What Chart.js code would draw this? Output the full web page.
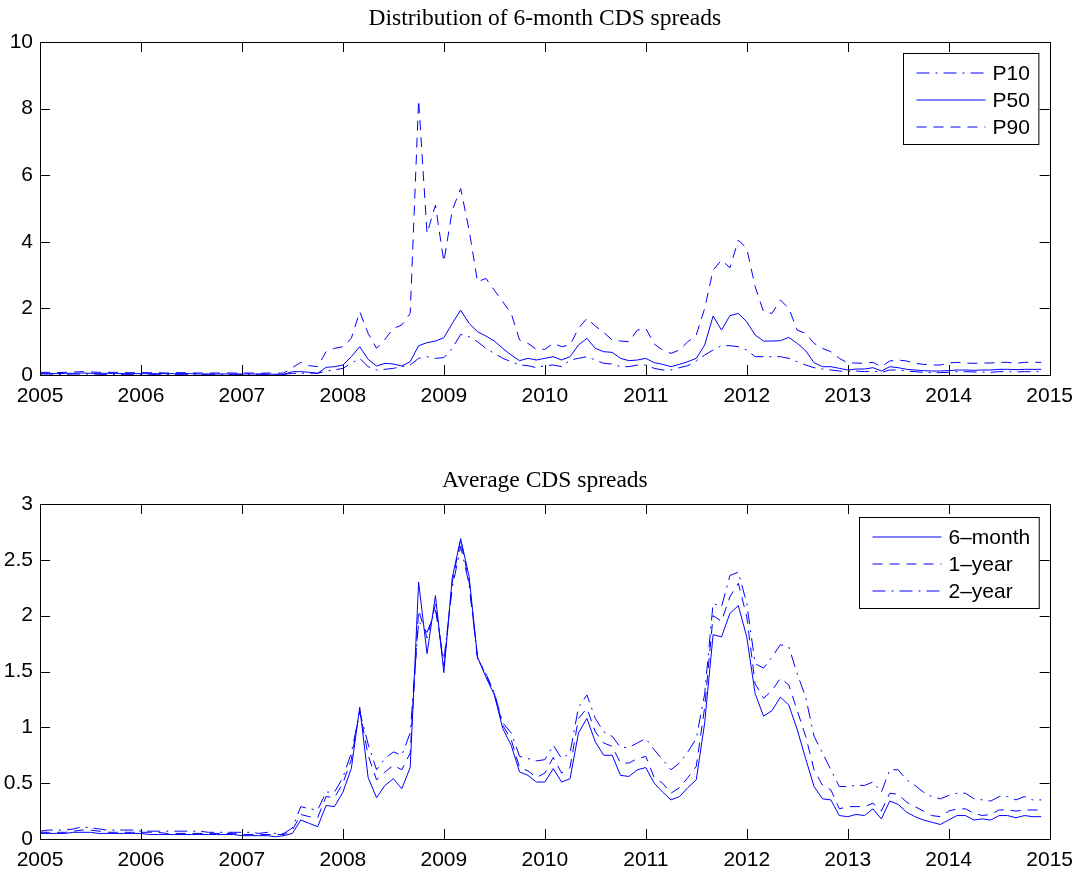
<!DOCTYPE html>
<html>
<head>
<meta charset="utf-8">
<script src="https://cdn.jsdelivr.net/npm/chart.js@4.4.1/dist/chart.umd.min.js"></script>
<style>
  body { margin: 0; background: #fff; }
  canvas { position: absolute; left: 0; }
</style>
</head>
<body>
<canvas id="distChart" width="1082" height="437" style="top:0;width:1082px;height:437px"></canvas>
<canvas id="avgChart" width="1082" height="437" style="top:437px;width:1082px;height:437px"></canvas>
<script>
// monthly observations, Jan 2005 - Dec 2014
let years = [2005, 2006, 2007, 2008, 2009, 2010, 2011, 2012, 2013, 2014];
let dates = [];
years.forEach(y => { for (let m = 0; m < 12; m++) dates.push(y + m / 12); });

let xTicks = [2005, 2006, 2007, 2008, 2009, 2010, 2011, 2012, 2013, 2014, 2015];

// 6-month CDS spread percentiles
let p10 = [
  0.03,0.03,0.02,0.02,0.03,0.03,0.03,0.02,0.02,0.02,0.02,0.02,
  0.02,0.02,0.02,0.02,0.02,0.02,0.02,0.02,0.02,0.02,0.02,0.02,
  0.02,0.02,0.02,0.02,0.02,0.02,0.05,0.05,0.06,0.05,0.12,0.15,
  0.20,0.35,0.50,0.25,0.15,0.17,0.20,0.25,0.30,0.50,0.55,0.50,
  0.52,0.80,1.22,1.15,1.00,0.80,0.65,0.50,0.40,0.30,0.28,0.22,
  0.28,0.30,0.25,0.45,0.50,0.55,0.45,0.35,0.33,0.25,0.25,0.30,
  0.30,0.20,0.15,0.15,0.22,0.28,0.42,0.60,0.75,0.88,0.88,0.85,
  0.75,0.55,0.55,0.55,0.55,0.50,0.40,0.30,0.22,0.18,0.15,0.12,
  0.10,0.12,0.10,0.12,0.08,0.15,0.15,0.12,0.10,0.08,0.07,0.07,
  0.08,0.10,0.10,0.09,0.09,0.08,0.10,0.10,0.09,0.10,0.10,0.10
];
let p50 = [
  0.05,0.05,0.04,0.05,0.05,0.06,0.05,0.05,0.05,0.05,0.04,0.04,
  0.04,0.04,0.04,0.04,0.04,0.04,0.04,0.03,0.03,0.03,0.03,0.03,
  0.03,0.03,0.03,0.03,0.02,0.02,0.10,0.10,0.08,0.05,0.23,0.25,
  0.30,0.55,0.85,0.47,0.27,0.35,0.33,0.27,0.40,0.88,0.97,1.02,
  1.12,1.55,1.95,1.55,1.30,1.17,1.02,0.80,0.60,0.43,0.50,0.45,
  0.50,0.55,0.45,0.55,0.90,1.10,0.80,0.70,0.68,0.50,0.43,0.45,
  0.50,0.37,0.32,0.25,0.32,0.40,0.50,0.90,1.77,1.35,1.78,1.85,
  1.60,1.20,1.02,1.02,1.03,1.13,0.95,0.73,0.37,0.25,0.25,0.20,
  0.15,0.18,0.18,0.22,0.12,0.25,0.22,0.17,0.15,0.13,0.12,0.12,
  0.13,0.15,0.15,0.14,0.15,0.15,0.17,0.17,0.16,0.17,0.17,0.17
];
let p90 = [
  0.08,0.08,0.07,0.08,0.09,0.10,0.09,0.08,0.08,0.08,0.07,0.07,
  0.07,0.07,0.07,0.06,0.07,0.07,0.06,0.06,0.06,0.06,0.06,0.06,
  0.06,0.06,0.05,0.06,0.05,0.06,0.22,0.38,0.28,0.25,0.70,0.80,
  0.85,1.10,1.90,1.25,0.80,1.07,1.40,1.50,1.85,8.26,4.25,5.10,
  3.40,4.95,5.60,4.35,2.80,2.90,2.55,2.20,1.85,1.05,0.95,0.77,
  0.77,0.95,0.85,0.90,1.40,1.70,1.47,1.28,1.05,1.02,1.00,1.35,
  1.40,0.93,0.75,0.65,0.75,1.00,1.20,2.00,3.15,3.45,3.22,4.05,
  3.80,2.65,1.90,1.85,2.25,2.00,1.35,1.25,0.95,0.80,0.70,0.50,
  0.36,0.36,0.35,0.38,0.25,0.42,0.45,0.42,0.35,0.32,0.30,0.30,
  0.36,0.38,0.36,0.35,0.36,0.36,0.38,0.38,0.35,0.38,0.38,0.38
];

// average spreads by maturity
let avg6m = [
  0.05,0.05,0.05,0.05,0.06,0.06,0.06,0.05,0.05,0.05,0.05,0.05,
  0.05,0.04,0.04,0.04,0.04,0.04,0.04,0.04,0.04,0.04,0.04,0.04,
  0.03,0.03,0.03,0.03,0.02,0.03,0.05,0.17,0.14,0.11,0.30,0.29,
  0.42,0.63,1.18,0.55,0.37,0.48,0.54,0.45,0.64,2.30,1.66,2.18,
  1.49,2.34,2.69,2.35,1.63,1.45,1.29,0.99,0.84,0.60,0.57,0.51,
  0.51,0.63,0.51,0.54,0.95,1.08,0.87,0.75,0.75,0.57,0.56,0.62,
  0.64,0.50,0.42,0.35,0.38,0.46,0.53,1.04,1.83,1.81,2.02,2.09,
  1.81,1.30,1.10,1.15,1.27,1.20,0.98,0.72,0.47,0.36,0.35,0.21,
  0.20,0.22,0.21,0.27,0.18,0.34,0.31,0.24,0.20,0.17,0.15,0.13,
  0.17,0.21,0.21,0.17,0.18,0.17,0.21,0.21,0.19,0.21,0.20,0.20
];
let avg1y = [
  0.06,0.06,0.06,0.06,0.07,0.08,0.08,0.07,0.06,0.06,0.06,0.06,
  0.06,0.06,0.06,0.05,0.05,0.05,0.05,0.05,0.05,0.05,0.05,0.05,
  0.04,0.04,0.04,0.04,0.04,0.04,0.08,0.22,0.20,0.19,0.38,0.37,
  0.50,0.71,1.15,0.75,0.53,0.60,0.66,0.62,0.77,2.05,1.80,2.10,
  1.55,2.30,2.68,2.30,1.62,1.47,1.30,1.02,0.89,0.64,0.61,0.55,
  0.59,0.73,0.59,0.64,1.08,1.17,0.96,0.86,0.83,0.68,0.68,0.72,
  0.74,0.55,0.50,0.41,0.46,0.55,0.65,1.18,2.00,1.95,2.17,2.29,
  1.99,1.39,1.26,1.33,1.44,1.38,1.15,0.92,0.62,0.48,0.44,0.27,
  0.29,0.29,0.29,0.32,0.25,0.41,0.40,0.33,0.29,0.25,0.21,0.20,
  0.25,0.27,0.27,0.23,0.21,0.22,0.26,0.26,0.25,0.26,0.26,0.26
];
let avg2y = [
  0.07,0.08,0.08,0.08,0.09,0.11,0.10,0.09,0.08,0.08,0.08,0.08,
  0.07,0.07,0.07,0.07,0.07,0.07,0.07,0.07,0.06,0.06,0.06,0.06,
  0.06,0.06,0.05,0.06,0.05,0.05,0.10,0.29,0.27,0.26,0.42,0.42,
  0.55,0.77,1.14,0.85,0.62,0.72,0.78,0.75,0.95,1.95,1.85,2.05,
  1.60,2.25,2.62,2.28,1.62,1.48,1.31,1.04,0.95,0.74,0.72,0.70,
  0.71,0.84,0.72,0.77,1.18,1.29,1.08,0.96,0.92,0.82,0.82,0.86,
  0.90,0.80,0.71,0.62,0.68,0.78,0.90,1.30,2.11,2.08,2.36,2.39,
  2.11,1.57,1.53,1.63,1.74,1.72,1.48,1.27,0.92,0.77,0.62,0.47,
  0.47,0.48,0.48,0.51,0.42,0.62,0.62,0.53,0.48,0.42,0.38,0.36,
  0.39,0.41,0.41,0.36,0.35,0.34,0.38,0.38,0.35,0.38,0.35,0.35
];

const BLUE = '#0000ff';
const SOLID = [];
const DASHED = [10, 7];
const DASHDOT = [13, 6, 2, 6];

Chart.defaults.font.family = '"Liberation Sans", Arial, sans-serif';
Chart.defaults.font.size = 21;
Chart.defaults.color = '#000';

function series(label, values, dash) {
    return {
        label: label,
        data: values.map((v, i) => ({ x: dates[i], y: v })),
        borderColor: BLUE,
        borderWidth: 1,
        borderDash: dash,
        pointRadius: 0,
        tension: 0,
        fill: false
    };
}

// box around the axes, inward ticks on all four sides, title and legend
const matlabAxes = {
    id: 'matlabAxes',
    afterDraw(chart, args, opts) {
        let ctx = chart.ctx;
        let a = chart.chartArea;
        let sx = chart.scales.x, sy = chart.scales.y;
        ctx.save();
        ctx.strokeStyle = '#000';
        ctx.lineWidth = 1;
        ctx.setLineDash([]);
        ctx.beginPath();
        sx.ticks.forEach(t => {
            let px = Math.round(sx.getPixelForValue(t.value)) + 0.5;
            ctx.moveTo(px, a.bottom); ctx.lineTo(px, a.bottom - 10);
            ctx.moveTo(px, a.top); ctx.lineTo(px, a.top + 10);
        });
        sy.ticks.forEach(t => {
            let py = Math.round(sy.getPixelForValue(t.value)) + 0.5;
            ctx.moveTo(a.left, py); ctx.lineTo(a.left + 10, py);
            ctx.moveTo(a.right, py); ctx.lineTo(a.right - 10, py);
        });
        ctx.stroke();
        ctx.strokeRect(Math.round(a.left) + 0.5, Math.round(a.top) + 0.5,
                       Math.round(a.right - a.left), Math.round(a.bottom - a.top));

        // title
        ctx.font = '23.5px "Liberation Serif", "Times New Roman", serif';
        ctx.fillStyle = '#000';
        ctx.textAlign = 'center';
        ctx.textBaseline = 'alphabetic';
        ctx.fillText(opts.title, (a.left + a.right) / 2, a.top - 17);

        // legend
        ctx.font = '21px "Liberation Sans", Arial, sans-serif';
        let sets = chart.data.datasets;
        let textW = Math.max(...sets.map(d => ctx.measureText(d.label).width));
        let lineLen = 69;
        let boxW = 13 + lineLen + 7 + textW + 9;
        let boxH = 91;
        let bx = Math.round(a.right - 11 - boxW) + 0.5;
        let by = Math.round(a.top + opts.legendTop) + 0.5;
        ctx.fillStyle = '#fff';
        ctx.fillRect(bx, by, boxW, boxH);
        ctx.strokeStyle = '#000';
        ctx.strokeRect(bx, by, boxW, boxH);
        ctx.textAlign = 'left';
        ctx.textBaseline = 'middle';
        sets.forEach((d, i) => {
            let ry = Math.round(by + 19.5 + i * 27);
            ctx.save();
            ctx.strokeStyle = BLUE;
            ctx.lineWidth = 1;
            ctx.setLineDash(d.borderDash);
            ctx.beginPath();
            ctx.moveTo(bx + 13, ry);
            ctx.lineTo(bx + 13 + lineLen, ry);
            ctx.stroke();
            ctx.restore();
            ctx.fillStyle = '#000';
            ctx.fillText(d.label, bx + 13 + lineLen + 7, ry + 1);
        });
        ctx.restore();
    }
};

function makeChart(id, datasets, yMax, yStep, padTop, xHeight, title, legendTop) {
    let canvas = document.getElementById(id);
    return new Chart(canvas.getContext('2d'), {
        type: 'line',
        data: { datasets: datasets },
        options: {
            responsive: false,
            animation: false,
            devicePixelRatio: 1,
            layout: { padding: { top: padTop, right: 30, left: 0, bottom: 0 } },
            plugins: {
                legend: { display: false },
                tooltip: { enabled: false },
                matlabAxes: { title: title, legendTop: legendTop }
            },
            scales: {
                x: {
                    type: 'linear',
                    min: xTicks[0],
                    max: xTicks[xTicks.length - 1],
                    afterBuildTicks: s => { s.ticks = xTicks.map(v => ({ value: v })); },
                    afterFit: s => { s.height = xHeight; },
                    grid: { display: false, drawTicks: false },
                    border: { display: false },
                    ticks: { padding: 9, maxRotation: 0, autoSkip: false, callback: v => String(v) }
                },
                y: {
                    min: 0,
                    max: yMax,
                    afterFit: s => { s.width = 40; },
                    grid: { display: false, drawTicks: false },
                    border: { display: false },
                    ticks: { stepSize: yStep, padding: 7, callback: v => String(+v.toFixed(1)) }
                }
            }
        },
        plugins: [matlabAxes]
    });
}

makeChart('distChart', [
    series('P10', p10, DASHDOT),
    series('P50', p50, SOLID),
    series('P90', p90, DASHED)
], 10, 2, 42, 62, 'Distribution of 6-month CDS spreads', 11);

makeChart('avgChart', [
    series('6\u2013month', avg6m, SOLID),
    series('1\u2013year', avg1y, DASHED),
    series('2\u2013year', avg2y, DASHDOT)
], 3, 0.5, 67, 35, 'Average CDS spreads', 13);
</script>
</body>
</html>
